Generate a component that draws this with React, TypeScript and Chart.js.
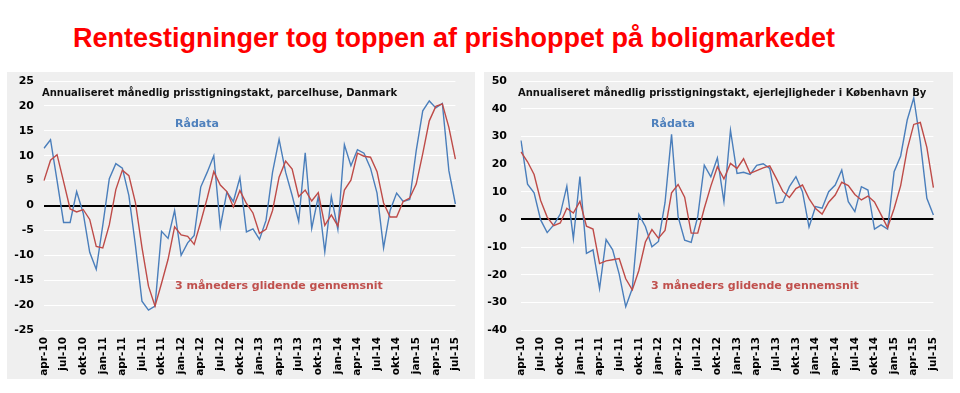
import React, { useEffect, useRef } from "react";
import { Chart, registerables } from "chart.js";
Chart.register(...registerables);

const monthLabels = [
  "apr-10","maj-10","jun-10","jul-10","aug-10","sep-10","okt-10","nov-10","dec-10",
  "jan-11","feb-11","mar-11","apr-11","maj-11","jun-11","jul-11","aug-11","sep-11","okt-11","nov-11","dec-11",
  "jan-12","feb-12","mar-12","apr-12","maj-12","jun-12","jul-12","aug-12","sep-12","okt-12","nov-12","dec-12",
  "jan-13","feb-13","mar-13","apr-13","maj-13","jun-13","jul-13","aug-13","sep-13","okt-13","nov-13","dec-13",
  "jan-14","feb-14","mar-14","apr-14","maj-14","jun-14","jul-14","aug-14","sep-14","okt-14","nov-14","dec-14",
  "jan-15","feb-15","mar-15","apr-15","maj-15","jun-15","jul-15",
];

// Parcelhuse, Danmark
const houseRaw = [
  11.5, 13.2, 5, -3.4, -3.4, 2.8, -1.5, -9.4, -12.8, -4, 5.4, 8.4, 7.5, 2, -8, -19.2,
  -21, -20.2, -5.2, -6.6, -1, -10, -7.5, -6, 3.7, 6.7, 10, -4.3, 2.7, 0.8, 5.6, -5.3,
  -4.7, -6.8, -3, 6.7, 13.3, 6.7, 2, -3.2, 10.6, -4.6, 1.8, -9.3, 1.8, -4.8, 12.2, 8,
  11.2, 10.5, 7.5, 2.5, -8.5, -1, 2.5, 0.8, 1.2, 11, 19, 21, 19.6, 20.5, 7, 0.3,
];
const houseAvg = [
  5, 9.1, 10.2, 4.8, -0.7, -1.3, -0.8, -2.8, -8.2, -8.5, -3.9, 3.2, 7.1, 6, 0.6, -8.4,
  -16.2, -20.2, -15.6, -10.8, -4.3, -5.9, -6.2, -7.8, -3.3, 1.5, 6.8, 4.1, 2.8, -0.3, 3, 0.4,
  -1.5, -5.6, -4.8, -1, 5.7, 8.9, 7.3, 1.8, 3.1, 0.9, 2.6, -4, -1.9, -4.1, 3.1, 5.1,
  10.5, 9.9, 9.7, 6.8, 0.5, -2.3, -2.3, 0.8, 1.5, 4.3, 10.4, 17, 19.9, 20.4, 15.7, 9.3,
];

// Ejerlejligheder, København By
const flatRaw = [
  28.5, 12.7, 9.6, -0.2, -4.8, -2, 1.9, 12, -7, 15.5, -12.3, -11, -25, -7.3, -11, -19.8,
  -31.6, -25, 1.8, -2.6, -9.9, -8, 6, 30.7, 1, -7.5, -8.3, 1, 19.6, 15.4, 22.2, 6.4,
  32.2, 16.6, 17, 16.2, 19.5, 20.1, 18.4, 5.8, 6.2, 11.8, 15.4, 10, -2.8, 4.6, 4, 10,
  12.4, 17.8, 6.4, 2.8, 11.8, 10.6, -3.5, -2, -3.5, 17.2, 22.9, 35.9, 43.9, 28, 7.6, 1.6,
];
const flatAvg = [
  24.4, 20.8, 16.2, 6.8, 0.8, -2.3, -1.3, 4, 2.3, 6.5, -2.5, -3.5, -16, -15, -14.6, -14.2,
  -21.5, -25.5, -18.5, -8.2, -3.7, -6.8, -4, 9.6, 12.6, 8, -5, -5, 4, 12, 19, 14.6,
  20.2, 18.4, 21.9, 16.6, 17.6, 18.6, 19.3, 14.8, 10.1, 7.9, 11.1, 12.4, 7.5, 3.9, 1.9, 6.2,
  8.8, 13.4, 12.2, 9, 7, 8.4, 6.3, 1.7, -3, 3.9, 12.2, 25.3, 34.3, 35, 26, 11.5,
];

const mainTitle = "Rentestigninger tog toppen af prishoppet på boligmarkedet";
const houseTitle = "Annualiseret månedlig prisstigningstakt, parcelhuse, Danmark";
const flatTitle = "Annualiseret månedlig prisstigningstakt, ejerlejligheder i København By";
const rawLabel = "Rådata";
const avgLabel = "3 måneders glidende gennemsnit";

const FONT = "'DejaVu Sans', Verdana, sans-serif";
const BLUE = "#4a7ebb";
const RED = "#be4b48";

const textPlugin = {
  id: "panelTexts",
  afterDatasetsDraw(chart: any, _args: any, opts: any) {
    const ctx = chart.ctx;
    for (const t of opts.items || []) {
      ctx.save();
      ctx.font = t.font;
      ctx.fillStyle = t.color;
      ctx.textBaseline = "alphabetic";
      ctx.textAlign = "left";
      ctx.fillText(t.text, t.x, t.y);
      ctx.restore();
    }
  },
};

type PanelProps = {
  left: number;
  top: number;
  width: number;
  height: number;
  raw: number[];
  avg: number[];
  yMin: number;
  yMax: number;
  step: number;
  padRight: number;
  yWidth: number;
  yPad: number;
  title: string;
  titleX: number;
  labelX: number;
};

function Panel(p: PanelProps) {
  const ref = useRef<HTMLCanvasElement>(null);
  useEffect(() => {
    const chart = new Chart(ref.current!, {
      type: "line",
      data: {
        labels: monthLabels,
        datasets: [
          {
            data: p.raw,
            borderColor: BLUE,
            borderWidth: 1.4,
            pointRadius: 0,
            tension: 0,
            order: 1,
          },
          {
            data: p.avg,
            borderColor: RED,
            borderWidth: 1.4,
            pointRadius: 0,
            tension: 0,
            order: 0,
          },
        ],
      },
      options: {
        responsive: false,
        animation: false,
        devicePixelRatio: 1,
        layout: { padding: { left: 0, right: p.padRight, top: 9, bottom: 0 } },
        plugins: {
          legend: { display: false },
          tooltip: { enabled: false },
          panelTexts: {
            items: [
              { text: p.title, x: p.titleX, y: 24, font: `bold 10px ${FONT}`, color: "#111" },
              { text: rawLabel, x: p.labelX, y: 55, font: `bold 11px ${FONT}`, color: "#4f81bd" },
              { text: avgLabel, x: p.labelX, y: 217, font: `bold 11px ${FONT}`, color: "#c0504d" },
            ],
          },
        } as any,
        scales: {
          x: {
            type: "category",
            offset: false,
            grid: { display: false, drawTicks: false },
            border: { display: false },
            ticks: {
              autoSkip: false,
              maxRotation: 90,
              minRotation: 90,
              padding: 7,
              color: "#000",
              font: { family: FONT, size: 10.5, weight: "bold" },
              callback: (_v: any, i: number) => (i % 3 === 0 ? monthLabels[i] : ""),
            },
            afterFit: (s: any) => {
              s.height = 49;
              s.paddingTop = 0;
              s.paddingBottom = 0;
            },
          },
          y: {
            min: p.yMin,
            max: p.yMax,
            grid: {
              drawTicks: false,
              color: (c: any) => (c.tick && c.tick.value === 0 ? "#000" : "#ffffff"),
              lineWidth: (c: any) => (c.tick && c.tick.value === 0 ? 2 : 1),
            },
            border: { display: false },
            ticks: {
              stepSize: p.step,
              padding: p.yPad,
              color: "#000",
              font: { family: FONT, size: 11, weight: "bold" },
            },
            afterFit: (s: any) => {
              s.width = p.yWidth;
              s.paddingTop = 0;
              s.paddingBottom = 0;
            },
          },
        },
      },
      plugins: [textPlugin as any],
    });
    return () => chart.destroy();
  }, []);
  return (
    <div
      style={{
        position: "absolute",
        left: p.left,
        top: p.top,
        width: p.width,
        height: p.height,
        background: "#efefef",
      }}
    >
      <canvas ref={ref} width={p.width} height={p.height} style={{ display: "block" }} />
    </div>
  );
}

export default function App() {
  return (
    <div
      style={{
        position: "absolute",
        left: 0,
        top: 0,
        width: 960,
        height: 393,
        background: "#fff",
        overflow: "hidden",
      }}
    >
      <div
        style={{
          position: "absolute",
          left: 73,
          top: 25,
          fontFamily: "'Liberation Sans', Arial, sans-serif",
          fontWeight: "bold",
          fontSize: 27,
          lineHeight: "27px",
          color: "#f00",
          whiteSpace: "nowrap",
        }}
      >
        {mainTitle}
      </div>
      <Panel
        left={7}
        top={72}
        width={468}
        height={307}
        raw={houseRaw}
        avg={houseAvg}
        yMin={-25}
        yMax={25}
        step={5}
        padRight={7}
        yWidth={37}
        yPad={10}
        title={houseTitle}
        titleX={35}
        labelX={168}
      />
      <Panel
        left={484}
        top={72}
        width={469}
        height={307}
        raw={flatRaw}
        avg={flatAvg}
        yMin={-40}
        yMax={50}
        step={10}
        padRight={10}
        yWidth={37}
        yPad={14}
        title={flatTitle}
        titleX={34}
        labelX={167}
      />
    </div>
  );
}
